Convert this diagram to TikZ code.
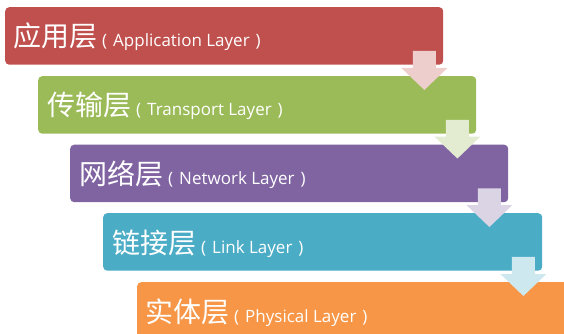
\documentclass[tikz,border=0pt]{standalone}
\usepackage{fontspec}
\setmainfont{Open Sans}
\newfontfamily\cjk{Noto Sans CJK SC}
\usetikzlibrary{calc}
\definecolor{cA}{HTML}{C0504D}
\definecolor{cB}{HTML}{9BBB59}
\definecolor{cC}{HTML}{8064A2}
\definecolor{cD}{HTML}{4BACC6}
\definecolor{cE}{HTML}{F79646}
\newcommand{\layertext}[2]{{\cjk\fontsize{28}{30}\selectfont #1}\hspace{5pt}(\hspace{6pt}#2\hspace{6pt})}
\begin{document}
\begin{tikzpicture}[x=1pt,y=-1pt,
  box/.style={rounded corners=4pt, anchor=north west, minimum height=57.5pt, inner sep=0pt, draw=none},
  lbl/.style={anchor=base west, text=white, inner sep=0pt, font=\fontsize{17}{20}\selectfont},
]
\useasboundingbox (0,0) rectangle (564,334);
\node[box, fill=cA, minimum width=438pt] (b1) at (5,7) {};
\node[box, fill=cB, minimum width=438pt] (b2) at (38,76) {};
\node[box, fill=cC, minimum width=438pt] (b3) at (70,144.5) {};
\node[box, fill=cD, minimum width=439pt] (b4) at (103,213) {};
\node[box, fill=cE, minimum width=450pt] (b5) at (137,282) {};

\node[lbl] (t1) at ($(b1.north west)+(8,40)$) {\layertext{应用层}{Application Layer}};
\node[lbl] (t2) at ($(b2.north west)+(9,40)$) {\layertext{传输层}{Transport Layer}};
\node[lbl] (t3) at ($(b3.north west)+(9,40)$) {\layertext{网络层}{Network Layer}};
\node[lbl] (t4) at ($(b4.north west)+(9,40)$) {\layertext{链接层}{Link Layer}};
\node[lbl] (t5) at ($(b5.north west)+(8,40)$) {\layertext{实体层}{Physical Layer}};

\foreach \u/\l/\c in {b1/b2/cA, b2/b3/cB, b3/b4/cC, b4/b5/cD}{
  \coordinate (s) at ($(\u.south east)+(-19,-14)$);
  \coordinate (q) at ($(\l.north)+(0,14)$);
  \coordinate (p) at (s |- q);
  \fill[fill=\c!28] ($(s)+(-11.5,0)$) -- ($(s)+(11.5,0)$) -- ($(p)+(11.5,-22)$) -- ($(p)+(23,-22)$) -- (p) -- ($(p)+(-23,-22)$) -- ($(p)+(-11.5,-22)$) -- cycle;
}
\end{tikzpicture}
\end{document}
